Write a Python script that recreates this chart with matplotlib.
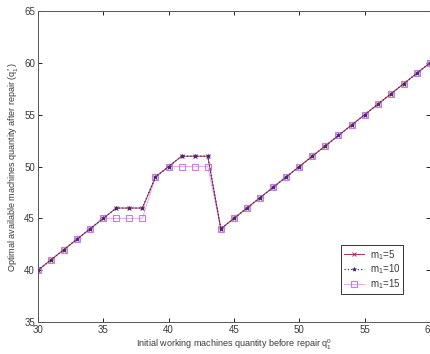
import matplotlib.pyplot as plt

plt.rcParams["font.family"] = ["Liberation Sans", "DejaVu Sans"]
plt.rcParams["mathtext.fontset"] = "custom"
plt.rcParams["mathtext.rm"] = "Liberation Sans"
plt.rcParams["mathtext.it"] = "Liberation Sans"

q0 = list(range(30, 61))

# optimal quantity after repair for each m1
m1_5 = [40, 41, 42, 43, 44, 45, 46, 46, 46, 49, 50, 51, 51, 51,
        44, 45, 46, 47, 48, 49, 50, 51, 52, 53, 54, 55, 56, 57, 58, 59, 60]
m1_10 = [40, 41, 42, 43, 44, 45, 46, 46, 46, 49, 50, 51, 51, 51,
         44, 45, 46, 47, 48, 49, 50, 51, 52, 53, 54, 55, 56, 57, 58, 59, 60]
m1_15 = [40, 41, 42, 43, 44, 45, 45, 45, 45, 49, 50, 50, 50, 50,
         44, 45, 46, 47, 48, 49, 50, 51, 52, 53, 54, 55, 56, 57, 58, 59, 60]

TEXT = "#3a3a3a"

fig = plt.figure(figsize=(4.3, 3.54), dpi=100)
ax = fig.add_axes([0.088, 0.09, 0.912, 0.879])

ax.plot(q0, m1_15, color="#e0a8f0", linestyle="-", linewidth=0.7,
        marker="s", markersize=4, markerfacecolor="none",
        markeredgecolor="#c080e0", markeredgewidth=0.8, label="m$_1$=15")
ax.plot(q0, m1_5, color="#b03050", linestyle="-", linewidth=0.7,
        marker="x", markersize=3, markeredgewidth=0.7, label="m$_1$=5")
ax.plot(q0, m1_10, color="#402878", linestyle=":", linewidth=0.9,
        marker="*", markersize=3, markeredgewidth=0.5, label="m$_1$=10")

ax.set_xlim(30, 60)
ax.set_ylim(35, 65)
ax.set_xticks([30, 35, 40, 45, 50, 55, 60])
ax.set_yticks([35, 40, 45, 50, 55, 60, 65])
ax.tick_params(direction="in", top=True, right=True, length=3, width=0.6,
               labelsize=7, labelcolor=TEXT, pad=2)
for spine in ax.spines.values():
    spine.set_linewidth(0.7)
    spine.set_color("#555555")

ax.set_xlabel("Initial working machines quantity before repair q$_1^0$",
              fontsize=6.5, color=TEXT, labelpad=2)
ax.set_ylabel("Optimal available machines quantity after repair (q$_1^*$)",
              fontsize=6.5, color=TEXT, labelpad=2)

handles, labels = ax.get_legend_handles_labels()
order = [1, 2, 0]
leg = ax.legend([handles[i] for i in order], [labels[i] for i in order],
                loc="lower right", bbox_to_anchor=(0.931, 0.09),
                borderaxespad=0, fontsize=7, fancybox=False, framealpha=1,
                handlelength=2.0, borderpad=0.3, labelspacing=0.1,
                handletextpad=0.6)
leg.get_frame().set_edgecolor("#333333")
leg.get_frame().set_linewidth(0.7)
for t in leg.get_texts():
    t.set_color(TEXT)

fig.savefig("out.png", dpi=100)
